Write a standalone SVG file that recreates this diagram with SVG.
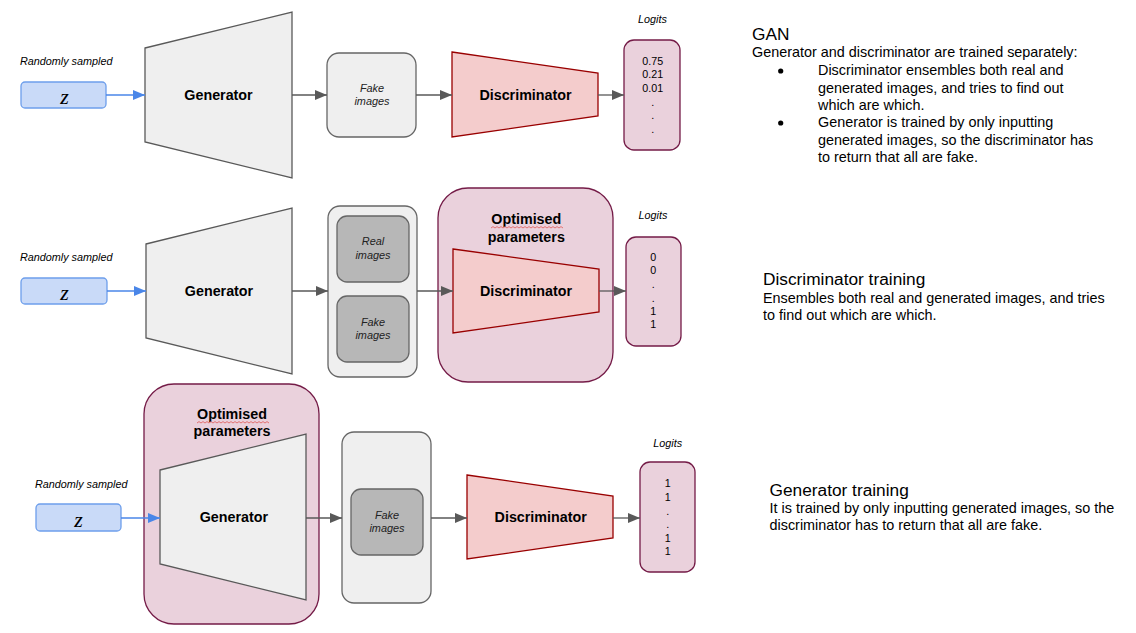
<svg xmlns="http://www.w3.org/2000/svg" width="1136" height="633" viewBox="0 0 1136 633">
<style>
.bg{fill:#ffffff}
.gen{fill:#efefef;stroke:#595959;stroke-width:1.3}
.disc{fill:#f4cccc;stroke:#990000;stroke-width:1.3}
.box{fill:#efefef;stroke:#666666;stroke-width:1.3}
.inner{fill:#b7b7b7;stroke:#666666;stroke-width:1.3}
.opt{fill:#ead1dc;stroke:#741b47;stroke-width:1.3}
.logit{fill:#ead1dc;stroke:#741b47;stroke-width:1.3}
.zbox{fill:#c9daf8;stroke:#6d9eeb;stroke-width:1.3}
.t{font-family:"Liberation Sans",Arial,sans-serif;fill:#000}
.b{font-weight:bold;font-size:14.3px;text-anchor:middle}
.i{font-style:italic;font-size:10.8px}
.im{font-style:italic;font-size:10.9px;text-anchor:middle;fill:#222}
.v{font-size:10.7px;text-anchor:middle}
.z{font-family:"Liberation Serif","Times New Roman",serif;font-style:italic;font-size:22px;text-anchor:middle;fill:#000}
.h{font-size:17.3px}
.p{font-size:14.4px}
.ga{stroke:#595959;stroke-width:1.3;fill:none}
.ba{stroke:#4a86e8;stroke-width:1.3;fill:none}
.sq{stroke:#e06666;stroke-width:0.9;fill:none}
</style>
<defs>
<marker id="ag" viewBox="0 0 12 10" refX="12" refY="5" markerWidth="12" markerHeight="10" markerUnits="userSpaceOnUse" orient="auto"><path d="M0,0 L12,5 L0,10 z" fill="#595959"/></marker>
<marker id="ab" viewBox="0 0 12 10" refX="12" refY="5" markerWidth="12" markerHeight="10" markerUnits="userSpaceOnUse" orient="auto"><path d="M0,0 L12,5 L0,10 z" fill="#4a86e8"/></marker>
</defs>
<rect class="bg" x="0" y="0" width="1136" height="633"/>

<!-- Row 1: GAN -->
<g id="row1">
  <g id="r1-z">
    <text class="t i" x="20" y="65">Randomly sampled</text>
    <rect class="zbox" x="21" y="82" width="85" height="26" rx="4"/>
    <text class="z" x="64.5" y="104">z</text>
  </g>
  <g id="r1-generator">
    <polygon class="gen" points="145,48 292,12 292,178 145,142"/>
    <text class="t b" x="218.5" y="100">Generator</text>
  </g>
  <g id="r1-fake">
    <rect class="box" x="327" y="53" width="89" height="84" rx="12"/>
    <text class="t im" x="372" y="92">Fake</text>
    <text class="t im" x="372" y="105">images</text>
  </g>
  <g id="r1-discriminator">
    <polygon class="disc" points="452,52 598,73 598,116 452,137"/>
    <text class="t b" x="525.5" y="100">Discriminator</text>
  </g>
  <g id="r1-logits">
    <text class="t i" x="652.5" y="23" text-anchor="middle">Logits</text>
    <rect class="logit" x="624" y="40" width="56" height="110" rx="10"/>
    <text class="t v" x="652.7" y="65">0.75</text>
    <text class="t v" x="652.7" y="78">0.21</text>
    <text class="t v" x="652.7" y="92">0.01</text>
    <text class="t v" x="652.7" y="106">.</text>
    <text class="t v" x="652.7" y="119">.</text>
    <text class="t v" x="652.7" y="133">.</text>
  </g>
</g>

<!-- Row 2: Discriminator training -->
<g id="row2">
  <g id="r2-z">
    <text class="t i" x="20" y="261">Randomly sampled</text>
    <rect class="zbox" x="21" y="278" width="86" height="26" rx="4"/>
    <text class="z" x="64.5" y="300">z</text>
  </g>
  <g id="r2-generator">
    <polygon class="gen" points="146,244 292,208 292,374 146,338"/>
    <text class="t b" x="219" y="296">Generator</text>
  </g>
  <g id="r2-images">
    <rect class="box" x="328" y="206" width="89" height="171" rx="12"/>
    <rect class="inner" x="337" y="216" width="72" height="66" rx="10"/>
    <text class="t im" x="373" y="245">Real</text>
    <text class="t im" x="373" y="259">images</text>
    <rect class="inner" x="337" y="296" width="72" height="66" rx="10"/>
    <text class="t im" x="373" y="326">Fake</text>
    <text class="t im" x="373" y="339">images</text>
  </g>
  <g id="r2-optimised">
    <rect class="opt" x="438" y="188" width="175" height="194" rx="30"/>
    <text class="t b" x="526.3" y="224">Optimised</text>
    <path class="sq" d="M491,228 l2,-1.4 l2,1.4 l2,-1.4 l2,1.4 l2,-1.4 l2,1.4 l2,-1.4 l2,1.4 l2,-1.4 l2,1.4 l2,-1.4 l2,1.4 l2,-1.4 l2,1.4 l2,-1.4 l2,1.4 l2,-1.4 l2,1.4 l2,-1.4 l2,1.4 l2,-1.4 l2,1.4 l2,-1.4 l2,1.4 l2,-1.4 l2,1.4 l2,-1.4 l2,1.4 l2,-1.4 l2,1.4 l2,-1.4 l2,1.4 l2,-1.4 l2,1.4 l2,-1.4 l2,1.4"/>
    <text class="t b" x="526.3" y="242">parameters</text>
  </g>
  <g id="r2-discriminator">
    <polygon class="disc" points="453,249 599,269 599,312 453,333"/>
    <text class="t b" x="526" y="296">Discriminator</text>
  </g>
  <g id="r2-logits">
    <text class="t i" x="653" y="219" text-anchor="middle">Logits</text>
    <rect class="logit" x="626" y="237" width="55" height="109" rx="10"/>
    <text class="t v" x="653.3" y="261">0</text>
    <text class="t v" x="653.3" y="274">0</text>
    <text class="t v" x="653.3" y="288">.</text>
    <text class="t v" x="653.3" y="302">.</text>
    <text class="t v" x="653.3" y="315">1</text>
    <text class="t v" x="653.3" y="328">1</text>
  </g>
</g>

<!-- Row 3: Generator training -->
<g id="row3">
  <g id="r3-z">
    <text class="t i" x="35" y="488">Randomly sampled</text>
    <rect class="zbox" x="36" y="504" width="85" height="27" rx="4"/>
    <text class="z" x="78.5" y="527">z</text>
  </g>
  <g id="r3-optimised">
    <rect class="opt" x="144" y="384" width="175" height="240" rx="30"/>
    <text class="t b" x="232" y="419">Optimised</text>
    <path class="sq" d="M197,423 l2,-1.4 l2,1.4 l2,-1.4 l2,1.4 l2,-1.4 l2,1.4 l2,-1.4 l2,1.4 l2,-1.4 l2,1.4 l2,-1.4 l2,1.4 l2,-1.4 l2,1.4 l2,-1.4 l2,1.4 l2,-1.4 l2,1.4 l2,-1.4 l2,1.4 l2,-1.4 l2,1.4 l2,-1.4 l2,1.4 l2,-1.4 l2,1.4 l2,-1.4 l2,1.4 l2,-1.4 l2,1.4 l2,-1.4 l2,1.4 l2,-1.4 l2,1.4 l2,-1.4 l2,1.4"/>
    <text class="t b" x="232" y="436">parameters</text>
  </g>
  <g id="r3-generator">
    <polygon class="gen" points="160,470 306,434 306,600 160,564"/>
    <text class="t b" x="233.8" y="522">Generator</text>
  </g>
  <g id="r3-images">
    <rect class="box" x="342" y="432" width="89" height="171" rx="12"/>
    <rect class="inner" x="351" y="489" width="72" height="66" rx="10"/>
    <text class="t im" x="387" y="519">Fake</text>
    <text class="t im" x="387" y="532">images</text>
  </g>
  <g id="r3-discriminator">
    <polygon class="disc" points="467,475 613,496 613,538 467,559"/>
    <text class="t b" x="540.7" y="522">Discriminator</text>
  </g>
  <g id="r3-logits">
    <text class="t i" x="667.7" y="447" text-anchor="middle">Logits</text>
    <rect class="logit" x="640" y="462" width="55" height="110" rx="10"/>
    <text class="t v" x="667.7" y="487">1</text>
    <text class="t v" x="667.7" y="501">1</text>
    <text class="t v" x="667.7" y="515">.</text>
    <text class="t v" x="667.7" y="528">.</text>
    <text class="t v" x="667.7" y="542">1</text>
    <text class="t v" x="667.7" y="555">1</text>
  </g>
</g>

<!-- Connectors -->
<g id="connectors">
  <line class="ba" x1="106" y1="95" x2="145" y2="95" marker-end="url(#ab)"/>
  <line class="ga" x1="292" y1="95" x2="327" y2="95" marker-end="url(#ag)"/>
  <line class="ga" x1="416" y1="95" x2="452" y2="95" marker-end="url(#ag)"/>
  <line class="ga" x1="598" y1="95" x2="624" y2="95" marker-end="url(#ag)"/>

  <line class="ba" x1="107" y1="291" x2="146" y2="291" marker-end="url(#ab)"/>
  <line class="ga" x1="292" y1="291" x2="328" y2="291" marker-end="url(#ag)"/>
  <line class="ga" x1="417" y1="291" x2="453" y2="291" marker-end="url(#ag)"/>
  <line class="ga" x1="599" y1="291" x2="626" y2="291" marker-end="url(#ag)"/>

  <line class="ba" x1="121" y1="518" x2="160" y2="518" marker-end="url(#ab)"/>
  <line class="ga" x1="306" y1="518" x2="342" y2="518" marker-end="url(#ag)"/>
  <line class="ga" x1="431" y1="518" x2="467" y2="518" marker-end="url(#ag)"/>
  <line class="ga" x1="613" y1="518" x2="640" y2="518" marker-end="url(#ag)"/>
</g>

<!-- Descriptions -->
<g id="desc-gan">
  <text class="t h" x="752" y="40">GAN</text>
  <text class="t p" x="752" y="57.3">Generator and discriminator are trained separately:</text>
  <circle cx="780.7" cy="71" r="2.6" fill="#000"/>
  <text class="t p" x="818" y="75">Discriminator ensembles both real and</text>
  <text class="t p" x="818" y="92.5">generated images, and tries to find out</text>
  <text class="t p" x="818" y="109.5">which are which.</text>
  <circle cx="780.7" cy="123" r="2.6" fill="#000"/>
  <text class="t p" x="818" y="127.3">Generator is trained by only inputting</text>
  <text class="t p" x="818" y="144.5">generated images, so the discriminator has</text>
  <text class="t p" x="818" y="161.7">to return that all are fake.</text>
</g>
<g id="desc-disc">
  <text class="t h" x="763" y="285">Discriminator training</text>
  <text class="t p" x="763" y="303.3">Ensembles both real and generated images, and tries</text>
  <text class="t p" x="763" y="320.3">to find out which are which.</text>
</g>
<g id="desc-gen">
  <text class="t h" x="769.5" y="495.7">Generator training</text>
  <text class="t p" x="769.5" y="513.3">It is trained by only inputting generated images, so the</text>
  <text class="t p" x="769.5" y="530.3">discriminator has to return that all are fake.</text>
</g>
</svg>
